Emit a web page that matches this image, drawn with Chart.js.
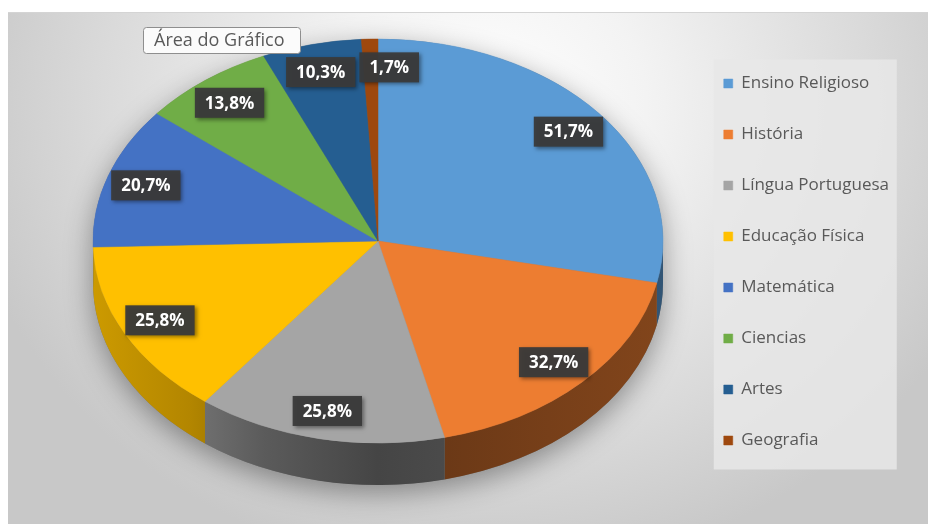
<!DOCTYPE html>
<html lang="pt">
<head>
<meta charset="utf-8">
<script src="https://cdn.jsdelivr.net/npm/chart.js@4.4.1/dist/chart.umd.min.js"></script>
<style>
  html, body { margin: 0; padding: 0; background: #fff; }
  #frame { position: relative; width: 928px; height: 524px; overflow: hidden; }
  #bg {
    position: absolute; left: 8px; top: 12px; right: 0; bottom: 0;
    border-top: 1px solid #d4d4d4;
    background: radial-gradient(ellipse 58% 92% at 52% 18%, #ffffff 0%, #f3f3f3 30%, #dadada 72%, #c8c8c8 100%);
  }
  canvas { position: absolute; left: 0; top: 0; }
</style>
</head>
<body>
<div id="frame">
  <div id="bg"></div>
  <canvas id="chart" width="928" height="524"></canvas>
</div>
<script>
const subjects = ['Ensino Religioso', 'História', 'Língua Portuguesa', 'Educação Física', 'Matemática', 'Ciencias', 'Artes', 'Geografia'];
const percents = [51.7, 32.7, 25.8, 25.8, 20.7, 13.8, 10.3, 1.7];
const sliceColors = ['#5b9bd5', '#ed7d31', '#a5a5a5', '#ffc000', '#4472c4', '#70ad47', '#255e91', '#9e480e'];

// tilted pie: top face ellipse and wall height
const pieGeometry = { cx: 378, cy: 241, rx: 285, ry: 202, depth: 42 };
const LABEL_R = 0.86;
// wall lighting across the pie, left to right
const wallLight = [[0, 0.8], [0.17, 0.7], [0.3, 0.55], [0.5, 0.42], [0.8, 0.5], [1, 0.55]];

Chart.defaults.font.family = "'Open Sans', sans-serif";

const shade = (hex, f) => {
  const n = parseInt(hex.slice(1), 16);
  const r = Math.round(((n >> 16) & 255) * f);
  const g = Math.round(((n >> 8) & 255) * f);
  const b = Math.round((n & 255) * f);
  return `rgb(${r},${g},${b})`;
};

const fmt = v => v.toFixed(1).replace('.', ',') + '%';

const pie3d = {
  id: 'pie3d',
  beforeDraw(chart) {
    // light panel behind the legend
    const boxes = chart.legend.legendHitBoxes;
    if (!boxes.length) return;
    const ctx = chart.ctx;
    const left = Math.min(...boxes.map(b => b.left)) - 10;
    const first = boxes[0];
    const last = boxes[boxes.length - 1];
    const top = first.top + first.height / 2 - 24;
    const bottom = last.top + last.height / 2 + 29;
    ctx.save();
    ctx.fillStyle = 'rgba(232,232,232,0.85)';
    ctx.fillRect(left, top, 183, bottom - top);
    ctx.restore();
  },
  beforeDatasetsDraw(chart) {
    const ctx = chart.ctx;
    const arcs = chart.getDatasetMeta(0).data;
    const { cx, cy, rx, ry, depth } = pieGeometry;

    // soft shadow under the whole body
    ctx.save();
    ctx.shadowColor = 'rgba(0,0,0,0.38)';
    ctx.shadowBlur = 28;
    ctx.shadowOffsetY = 8;
    ctx.fillStyle = '#777';
    ctx.beginPath();
    ctx.ellipse(cx, cy, rx, ry, 0, Math.PI, 2 * Math.PI);
    ctx.ellipse(cx, cy + depth, rx, ry, 0, 0, Math.PI);
    ctx.closePath();
    ctx.fill();
    ctx.restore();

    // front walls of each slice
    arcs.forEach((arc, i) => {
      const a0 = Math.max(arc.startAngle, 0);
      const a1 = Math.min(arc.endAngle, Math.PI);
      if (a1 <= a0) return;
      const grad = ctx.createLinearGradient(cx - rx, 0, cx + rx, 0);
      wallLight.forEach(([stop, f]) => grad.addColorStop(stop, shade(sliceColors[i], f)));
      ctx.beginPath();
      ctx.ellipse(cx, cy, rx, ry, 0, a0, a1);
      ctx.ellipse(cx, cy + depth, rx, ry, 0, a1, a0, true);
      ctx.closePath();
      ctx.fillStyle = grad;
      ctx.fill();
    });

    // squash the library's round pie onto the top face
    const { x, y, outerRadius } = arcs[0];
    ctx.save();
    ctx.translate(cx, cy);
    ctx.scale(rx / outerRadius, ry / outerRadius);
    ctx.translate(-x, -y);
  },
  afterDatasetsDraw(chart) {
    const ctx = chart.ctx;
    ctx.restore();
    const arcs = chart.getDatasetMeta(0).data;
    const { cx, cy, rx, ry } = pieGeometry;
    const placed = [];
    ctx.save();
    ctx.font = "bold 17px 'Open Sans', sans-serif";
    ctx.textAlign = 'center';
    ctx.textBaseline = 'middle';
    arcs.forEach((arc, i) => {
      const mid = (arc.startAngle + arc.endAngle) / 2;
      let x = cx + rx * LABEL_R * Math.cos(mid);
      const y = cy + ry * LABEL_R * Math.sin(mid);
      const text = fmt(percents[i]);
      const w = ctx.measureText(text).width + 20;
      const h = 30;
      placed.forEach(p => {
        if (Math.abs(p.x - x) < (p.w + w) / 2 + 4 && Math.abs(p.y - y) < h) {
          x = x >= p.x ? p.x + (p.w + w) / 2 + 4 : p.x - (p.w + w) / 2 - 4;
        }
      });
      placed.push({ x, y, w });
      ctx.save();
      ctx.shadowColor = 'rgba(0,0,0,0.45)';
      ctx.shadowBlur = 4;
      ctx.shadowOffsetX = 2;
      ctx.shadowOffsetY = 2;
      ctx.fillStyle = 'rgba(58,58,58,0.95)';
      ctx.fillRect(x - w / 2, y - h / 2, w, h);
      ctx.restore();
      ctx.fillStyle = '#ffffff';
      ctx.fillText(text, x, y + 1);
    });
    ctx.restore();
  },
  afterDraw(chart) {
    // "Área do Gráfico" hover box
    const ctx = chart.ctx;
    ctx.save();
    ctx.beginPath();
    ctx.roundRect(143.5, 27.5, 157, 26, 3);
    ctx.fillStyle = '#fbfbfb';
    ctx.fill();
    ctx.strokeStyle = '#8e8e8e';
    ctx.lineWidth = 1;
    ctx.stroke();
    ctx.fillStyle = '#595959';
    ctx.font = "18px 'Open Sans', sans-serif";
    ctx.textBaseline = 'middle';
    ctx.fillText('Área do Gráfico', 154, 41);
    ctx.restore();
  }
};

new Chart(document.getElementById('chart'), {
  type: 'pie',
  data: {
    labels: subjects,
    datasets: [{
      data: percents,
      backgroundColor: sliceColors,
      borderColor: sliceColors,
      borderWidth: 0.5,
      clip: false
    }]
  },
  options: {
    responsive: false,
    animation: false,
    events: [],
    layout: { padding: { top: 20, bottom: 20, left: 20, right: 29 } },
    plugins: {
      legend: {
        position: 'right',
        align: 'center',
        labels: {
          boxWidth: 9,
          boxHeight: 9,
          padding: 34,
          color: '#595959',
          font: { size: 17 }
        }
      },
      tooltip: { enabled: false }
    }
  },
  plugins: [pie3d]
});
</script>
</body>
</html>
